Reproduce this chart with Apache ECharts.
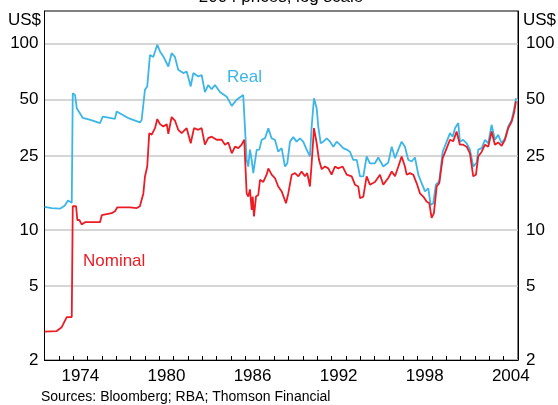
<!DOCTYPE html>
<html>
<head>
<meta charset="utf-8">
<script src="https://cdn.jsdelivr.net/npm/echarts@6/dist/echarts.min.js"></script>
<style>
html,body{margin:0;padding:0;background:#fff;}
#chart{width:558px;height:405px;}
</style>
</head>
<body>
<div id="chart"></div>
<script>
// ---- Data (decimal year, US$ per barrel) ----
const realData = [
 [1972.0,13.3],[1972.5,13.1],[1973.08,13.0],[1973.4,13.5],[1973.64,14.4],[1973.9,14.0],
 [1973.97,54.3],[1974.13,53],[1974.25,45],[1974.36,44.5],[1974.66,40],[1975.2,39],[1975.87,37.5],
 [1976.06,40.6],[1976.56,40],[1976.91,39.5],[1977.03,43.3],[1977.8,40],[1978.65,37.8],[1978.77,39],
 [1979.0,56.6],[1979.16,59],[1979.35,87],[1979.58,85],[1979.86,98.8],[1980.05,91],[1980.28,85.5],
 [1980.63,75.5],[1980.86,89],[1981.09,85],[1981.32,72.5],[1981.67,69.6],[1981.91,71],[1982.19,59],
 [1982.37,69.6],[1982.72,66.7],[1982.95,68],[1983.18,55],[1983.41,60],[1983.65,57],[1983.88,60],
 [1984.23,55],[1984.7,52],[1985.05,46.4],[1985.39,50],[1985.51,48.8],[1985.85,53],
 [1986.09,23.8],[1986.2,21.9],[1986.32,27],[1986.44,23.8],[1986.55,20.2],[1986.79,26.9],[1986.97,27],
 [1987.14,30.5],[1987.37,31.1],[1987.6,35.2],[1987.83,31],[1988.06,30.5],[1988.29,26.3],[1988.53,27.5],
 [1988.76,21.9],[1988.92,22.8],[1989.11,29.8],[1989.34,31.5],[1989.57,29.8],[1989.8,31],[1990.03,29.8],
 [1990.27,27],[1990.5,24.8],[1990.62,35.9],[1990.78,51],[1990.97,45],[1991.08,35.9],[1991.25,29.2],
 [1991.43,29.8],[1991.67,31],[1991.9,29.8],[1992.13,28],[1992.36,29.8],[1992.59,28.7],[1992.82,27.5],
 [1993.06,27],[1993.29,26.3],[1993.52,23.8],[1993.76,23.8],[1993.99,19.4],[1994.22,19.4],[1994.45,24.8],
 [1994.68,22.8],[1995.03,22.8],[1995.26,24.5],[1995.61,21.9],[1995.96,23],[1996.2,28],[1996.43,24.3],
 [1996.66,27],[1996.89,29.8],[1997.12,28],[1997.35,23.8],[1997.59,23.3],[1997.82,24.5],[1998.05,19.8],
 [1998.29,17.8],[1998.52,16.1],[1998.75,16.7],[1998.91,13.6],[1999.09,13.9],[1999.28,17.5],[1999.51,18.2],
 [1999.75,26.3],[2000.03,29.8],[2000.26,33.1],[2000.45,31.7],[2000.61,35.2],[2000.84,37.5],[2000.95,29.8],
 [2001.18,30.5],[2001.42,29.2],[2001.65,27],[2001.88,21.9],[2002.12,23],[2002.23,27],[2002.47,27.5],
 [2002.7,30.5],[2002.93,29.2],[2003.16,36.7],[2003.39,30.5],[2003.62,32.4],[2003.86,29.2],[2004.09,31],
 [2004.32,36],[2004.56,39],[2004.72,44.2],[2004.86,51]
];
const nominalData = [
 [1972.0,2.84],[1972.85,2.86],[1973.2,3.0],[1973.55,3.4],[1973.9,3.4],
 [1973.97,13.4],[1974.2,13.4],[1974.29,11.3],[1974.43,11.3],[1974.59,10.7],[1974.82,11.0],[1975.87,11.0],
 [1975.99,12.0],[1976.68,12.3],[1976.91,12.6],[1977.07,13.2],[1977.96,13.2],[1978.43,13.1],[1978.65,13.4],
 [1978.89,15.7],[1979.0,19.3],[1979.16,21.9],[1979.3,33.1],[1979.47,32.5],[1979.7,35.2],[1979.86,39.4],
 [1980.05,37],[1980.28,35.9],[1980.52,37],[1980.63,32.8],[1980.86,40.4],[1981.09,38.7],[1981.32,34.5],
 [1981.56,33.1],[1981.91,35.2],[1982.19,29.2],[1982.42,35.2],[1982.72,34.5],[1982.95,35.2],[1983.18,28.7],
 [1983.41,31.1],[1983.65,31.7],[1984.0,30.5],[1984.35,30.5],[1984.58,28.7],[1984.81,29.5],[1985.05,25.8],
 [1985.28,28],[1985.51,27.5],[1985.74,28.7],[1985.92,30.5],[1986.09,15.7],[1986.2,15.1],[1986.32,16.5],
 [1986.44,12.8],[1986.51,15.1],[1986.6,11.8],[1986.74,15.1],[1986.9,15.4],[1987.02,18.6],[1987.25,18.1],
 [1987.48,19.8],[1987.6,21.4],[1987.83,19.8],[1988.06,19.0],[1988.29,17.1],[1988.53,16.1],[1988.83,13.9],
 [1988.99,15.7],[1989.23,19.8],[1989.46,20.2],[1989.69,19.4],[1989.92,20.6],[1990.15,19.4],[1990.31,20.2],
 [1990.5,17.1],[1990.62,22.8],[1990.78,35.2],[1990.97,29.2],[1991.13,23.8],[1991.32,21.2],[1991.55,21.9],
 [1991.78,21.4],[1992.01,19.8],[1992.24,21.9],[1992.47,21.4],[1992.78,21.9],[1993.06,19.8],[1993.41,19.4],
 [1993.64,17.5],[1993.87,17.1],[1993.99,14.8],[1994.22,15.1],[1994.45,19.4],[1994.68,17.5],[1995.03,18.1],
 [1995.38,19.8],[1995.61,17.5],[1995.96,19.0],[1996.2,20.6],[1996.43,19.4],[1996.66,21.9],[1996.89,24.8],
 [1997.12,21.9],[1997.24,19.8],[1997.47,20.2],[1997.7,19.8],[1997.94,17.8],[1998.17,15.7],[1998.4,15.1],
 [1998.63,14.2],[1998.82,13.9],[1998.98,11.6],[1999.14,12.3],[1999.33,17.1],[1999.51,17.8],[1999.75,24.3],
 [2000.03,27.5],[2000.26,30.5],[2000.49,30],[2000.72,33.8],[2000.95,28.7],[2001.18,28.7],[2001.42,28],
 [2001.65,25.8],[2001.88,19.4],[2002.07,19.8],[2002.23,24.8],[2002.47,26.3],[2002.7,28.7],[2002.93,28],
 [2003.16,33.8],[2003.39,28.7],[2003.62,29.5],[2003.86,28.3],[2004.09,30.5],[2004.32,35.2],[2004.56,38.2],
 [2004.72,42.4],[2004.86,49]
];
const xLabelYears = [1974, 1980, 1986, 1992, 1998, 2004];
const yTickValues = [2, 5, 10, 25, 50, 100];
const seriesNames = ['Real', 'Nominal'];
const titleText = '2004 prices, log scale';
const unitText = 'US$';
const sourceText = 'Sources: Bloomberg; RBA; Thomson Financial';

// ---- Chart ----
const FONT = 'Arial, "Liberation Sans", Helvetica, sans-serif';
const BLUE = '#3cb6e8';
const RED = '#ec1c24';
const toLog = d => [d[0], Math.log10(d[1])];
const yLogTicks = yTickValues.map(v => Math.log10(v));
const yMin = Math.log10(2), yMax = Math.log10(150);

function yAxisDef(pos) {
  return {
    type: 'value', position: pos, min: yMin, max: yMax,
    axisLine: {show: true, lineStyle: {color: '#000', width: 1}},
    axisTick: {show: false, customValues: yLogTicks},
    axisLabel: {
      customValues: yLogTicks,
      formatter: v => String(Math.round(Math.pow(10, v))),
      fontSize: 17, color: '#000', fontFamily: FONT,
      margin: pos === 'left' ? 6 : 8
    },
    splitLine: {show: pos === 'left', lineStyle: {color: '#c8c8c8', width: 1.5}}
  };
}

const chart = echarts.init(document.getElementById('chart'), null, {renderer: 'canvas'});
chart.setOption({
  animation: false,
  backgroundColor: '#fff',
  grid: {left: 44.5, right: 40, top: 11, bottom: 45, show: true, borderColor: '#000', borderWidth: 1, outerBoundsMode: 'none', containLabel: false},
  xAxis: {
    type: 'value', min: 1972, max: 2005, interval: 1,
    axisLine: {lineStyle: {color: '#000', width: 1}},
    axisTick: {inside: true, length: 4, lineStyle: {color: '#000'}},
    axisLabel: {
      customValues: xLabelYears.map(y => y + 0.5),
      formatter: v => String(Math.floor(v)),
      fontSize: 17, color: '#000', fontFamily: FONT, margin: 8
    },
    splitLine: {show: false}
  },
  yAxis: [yAxisDef('left'), yAxisDef('right')],
  series: [
    {name: seriesNames[0], type: 'line', data: realData.map(toLog), showSymbol: false,
     lineStyle: {color: BLUE, width: 1.8}, itemStyle: {color: BLUE}, z: 2},
    {name: seriesNames[1], type: 'line', data: nominalData.map(toLog), showSymbol: false,
     lineStyle: {color: RED, width: 1.8}, itemStyle: {color: RED}, z: 3}
  ],
  graphic: [
    {type: 'text', x: 281, y: -3, style: {text: titleText, align: 'center', verticalAlign: 'middle', fontSize: 17, fontFamily: FONT, fill: '#000'}},
    {type: 'text', x: 41, y: 20, style: {text: unitText, align: 'right', verticalAlign: 'middle', fontSize: 17, fontFamily: FONT, fill: '#000'}},
    {type: 'text', x: 523, y: 20, style: {text: unitText, align: 'left', verticalAlign: 'middle', fontSize: 17, fontFamily: FONT, fill: '#000'}},
    {type: 'text', x: 227, y: 77, style: {text: seriesNames[0], align: 'left', verticalAlign: 'middle', fontSize: 17, fontFamily: FONT, fill: BLUE}},
    {type: 'text', x: 83, y: 261, style: {text: seriesNames[1], align: 'left', verticalAlign: 'middle', fontSize: 17, fontFamily: FONT, fill: RED}},
    {type: 'text', x: 41, y: 397, style: {text: sourceText, align: 'left', verticalAlign: 'middle', fontSize: 14, fontFamily: FONT, fill: '#000'}}
  ]
});
</script>
</body>
</html>
